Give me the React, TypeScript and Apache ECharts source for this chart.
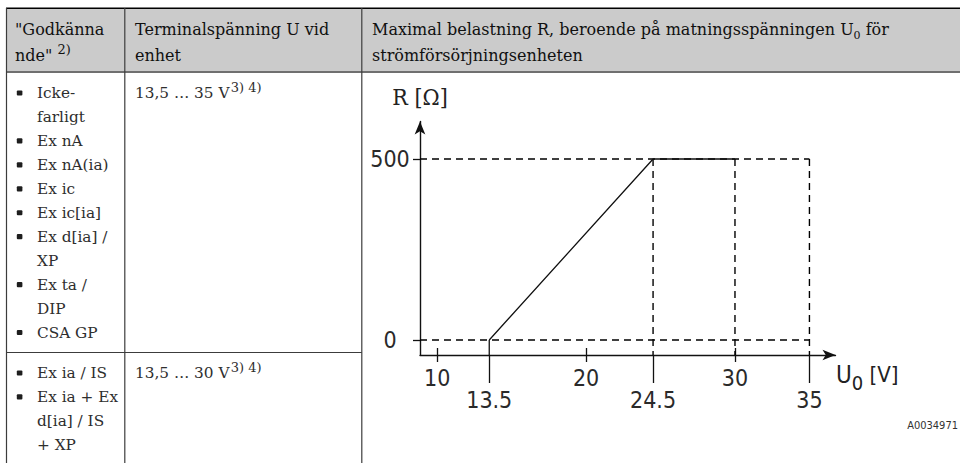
import React, { useEffect, useRef } from "react";
import * as echarts from "echarts";

// ---------- data ----------
const curveU = [13.5, 24.5, 30];
const curveR = [0, 500, 500];
const xTicksMajor = [10, 20, 30];
const xTicksMarked = [13.5, 24.5, 35];
const yTicks = [0, 500];
const rLimit = 500;
const uMax = 35;
const uGuides = [24.5, 30, 35];
const X_MIN = 8.85;
const X_MAX = 36.75;
const Y_MIN = -41.4;
const Y_MAX = 603.6;

const headerCol1 = ['"Godkänna', 'nde" '];
const headerCol1Note = "2)";
const headerCol2 = ["Terminalspänning U vid", "enhet"];
const headerCol3Parts = ["Maximal belastning R, beroende på matningsspänningen U", "0", " för"];
const headerCol3Line2 = "strömförsörjningsenheten";

const approvalsRow1 = ["Icke-", "farligt", "Ex nA", "Ex nA(ia)", "Ex ic", "Ex ic[ia]", "Ex d[ia] /", "XP", "Ex ta /", "DIP", "CSA GP"];
const bulletsRow1 = [true, false, true, true, true, true, true, false, true, false, true];
const approvalsRow2 = ["Ex ia / IS", "Ex ia + Ex", "d[ia] / IS", "+ XP"];
const bulletsRow2 = [true, true, false, false];
const terminalRow1 = "13,5 … 35 V";
const terminalRow2 = "13,5 … 30 V";
const terminalNotes = "3) 4)";
const yAxisName = "R [Ω]";
const xAxisNameParts = ["U", "0", " [V]"];
const figureId = "A0034971";

// ---------- styles ----------
const SERIF = "'DejaVu Serif', serif";
const SERIF_C = "'DejaVu Serif Condensed', 'DejaVu Serif', serif";
const SANS_C = "'DejaVu Sans Condensed', 'DejaVu Sans', sans-serif";
const HEAD_FILL = "#101010";
const BODY_FILL = "#2e2e2e";
const LINE_DARK = "#111";

function buildGraphic() {
  const els: any[] = [];
  const line = (x1: number, y1: number, x2: number, y2: number, stroke: string, lineWidth: number) => ({
    type: "line",
    silent: true,
    shape: { x1, y1, x2, y2 },
    style: { stroke, lineWidth },
  });
  // header background
  els.push({ type: "rect", silent: true, shape: { x: 6.5, y: 8.5, width: 953.5, height: 63 }, style: { fill: "#cbcbcb" } });
  els.push(line(6, 8.3, 960, 8.3, "#000", 1.5));
  els.push(line(6, 72, 960, 72, "#6f6f6f", 2));
  els.push(line(6.5, 8, 6.5, 463, "#3c3c3c", 1.2));
  els.push(line(124.8, 8, 124.8, 463, "#3c3c3c", 1.2));
  els.push(line(361.8, 8, 361.8, 463, "#3c3c3c", 1.2));
  els.push(line(6.5, 352.5, 361.8, 352.5, "#3c3c3c", 1.2));

  const m = (fill: string, size = 16) => ({ fontFamily: SERIF, fontSize: size, lineHeight: 24, fill });
  const rich = (x: number, y: number, text: string, richStyles: any) => ({
    type: "text",
    silent: true,
    x,
    y,
    style: { text, rich: richStyles, verticalAlign: "middle", align: "left", fill: HEAD_FILL, fontFamily: SERIF, fontSize: 16 },
  });
  const plain = (x: number, y: number, text: string, fill: string, size = 16) => ({
    type: "text",
    silent: true,
    x,
    y,
    style: { text, fill, fontFamily: SERIF, fontSize: size, verticalAlign: "middle", align: "left" },
  });

  const H1 = 29;
  const H2 = 55;
  els.push(plain(15, H1, headerCol1[0], HEAD_FILL));
  els.push(
    rich(15, H2, `{m|${headerCol1[1]}}{sup|${headerCol1Note}}`, {
      m: m(HEAD_FILL),
      sup: { fontFamily: SERIF, fontSize: 13, lineHeight: 20, verticalAlign: "top", fill: HEAD_FILL },
    })
  );
  els.push(plain(135, H1, headerCol2[0], HEAD_FILL));
  els.push(plain(135, H2, headerCol2[1], HEAD_FILL));
  els.push(
    rich(372, H1, `{m|${headerCol3Parts[0]}}{sub|${headerCol3Parts[1]}}{m|${headerCol3Parts[2]}}`, {
      m: m(HEAD_FILL),
      sub: { fontFamily: SERIF, fontSize: 11, lineHeight: 16, verticalAlign: "bottom", fill: HEAD_FILL },
    })
  );
  els.push(plain(372, H2, headerCol3Line2, HEAD_FILL));

  // body column 1
  const BODY_SIZE = 15.3;
  const addList = (items: string[], bullets: boolean[], y0: number) => {
    items.forEach((t, i) => {
      const y = y0 + i * 23.95;
      if (bullets[i]) {
        els.push({ type: "rect", silent: true, shape: { x: 16.8, y: y - 2.6, width: 5.6, height: 5.2, r: 1 }, style: { fill: "#1e1e1e" } });
      }
      els.push(plain(37, y, t, BODY_FILL, BODY_SIZE));
    });
  };
  addList(approvalsRow1, bulletsRow1, 93);
  addList(approvalsRow2, bulletsRow2, 373);

  // body column 2
  const supStyle = { fontFamily: SERIF, fontSize: 13, lineHeight: 14, verticalAlign: "top", fill: BODY_FILL };
  els.push(rich(135, 93, `{m|${terminalRow1}}{sup|\u200A${terminalNotes}}`, { m: m(BODY_FILL, BODY_SIZE), sup: supStyle }));
  els.push(rich(135, 373, `{m|${terminalRow2}}{sup|\u200A${terminalNotes}}`, { m: m(BODY_FILL, BODY_SIZE), sup: supStyle }));

  // x-axis name
  els.push({
    type: "text",
    silent: true,
    x: 836,
    y: 375,
    style: {
      text: `{u|${xAxisNameParts[0]}}{s|${xAxisNameParts[1]}}{v|${xAxisNameParts[2]}}`,
      verticalAlign: "middle",
      align: "left",
      fill: "#222",
      rich: {
        u: { fontFamily: SANS_C, fontSize: 24, lineHeight: 24, verticalAlign: "top", fill: "#222" },
        s: { fontFamily: SANS_C, fontSize: 20, lineHeight: 20, padding: [10, 0, 0, 0], verticalAlign: "top", fill: "#222" },
        v: { fontFamily: SANS_C, fontSize: 22, lineHeight: 24, verticalAlign: "top", fill: "#222" },
      },
    },
  });
  // figure id
  els.push({
    type: "text",
    silent: true,
    x: 958,
    y: 425,
    style: { text: figureId, fontFamily: SANS_C, fontSize: 11, fill: "#333", align: "right", verticalAlign: "middle" },
  });
  return els;
}

export default function App() {
  const ref = useRef<HTMLDivElement>(null);
  useEffect(() => {
    if (!ref.current) return;
    const chart = echarts.init(ref.current, undefined, { renderer: "svg" });
    const tickStyle = { color: LINE_DARK, width: 1.3 };
    const labelStyle = { fontFamily: SANS_C, fontSize: 23, color: "#2a2a2a" };
    const dashed = (data: number[][]) => ({
      type: "line",
      data,
      symbol: "none",
      silent: true,
      xAxisIndex: 0,
      yAxisIndex: 0,
      lineStyle: { color: "#000", width: 1.4, type: [7, 5] },
    });
    const option: any = {
      animation: false,
      textStyle: { fontFamily: SANS_C },
      grid: { left: 420, top: 121.5, right: 124.5, bottom: 108, containLabel: false },
      xAxis: [
        {
          type: "value",
          min: X_MIN,
          max: X_MAX,
          position: "bottom",
          splitLine: { show: false },
          axisLine: { show: true, onZero: false, symbol: ["none", "arrow"], symbolSize: [8, 13], lineStyle: { color: LINE_DARK, width: 1.4 } },
          axisTick: { show: true, customValues: xTicksMajor, length: 7, lineStyle: tickStyle },
          axisLabel: { show: true, customValues: xTicksMajor, margin: 11, ...labelStyle },
        },
        {
          type: "value",
          min: X_MIN,
          max: X_MAX,
          position: "bottom",
          splitLine: { show: false },
          axisLine: { show: false, onZero: false },
          axisTick: { show: true, inside: true, customValues: xTicksMajor, length: 7, lineStyle: tickStyle },
          axisLabel: { show: false },
        },
        {
          type: "value",
          min: X_MIN,
          max: X_MAX,
          position: "bottom",
          splitLine: { show: false },
          axisLine: { show: false, onZero: false },
          axisTick: { show: true, customValues: xTicksMarked, length: 28, lineStyle: tickStyle },
          axisLabel: { show: true, customValues: xTicksMarked, margin: 33, ...labelStyle },
        },
      ],
      yAxis: {
        type: "value",
        min: Y_MIN,
        max: Y_MAX,
        position: "left",
        splitLine: { show: false },
        axisLine: { show: true, onZero: false, symbol: ["none", "arrow"], symbolSize: [8, 13], lineStyle: { color: LINE_DARK, width: 1.4 } },
        axisTick: { show: true, customValues: yTicks, length: 7, lineStyle: tickStyle },
        axisLabel: { show: true, customValues: yTicks, margin: 30, align: "center", ...labelStyle },
        name: yAxisName,
        nameLocation: "end",
        nameGap: 13,
        nameTextStyle: { fontFamily: SERIF_C, fontSize: 23, color: "#222", align: "center", verticalAlign: "bottom" },
      },
      series: [
        dashed([[X_MIN, 0], [uMax, 0]]),
        dashed([[X_MIN, rLimit], [uMax, rLimit]]),
        ...uGuides.map((u) => dashed([[u, rLimit], [u, Y_MIN]])),
        {
          type: "line",
          data: [[curveU[0], curveR[0]], [curveU[0], Y_MIN]],
          symbol: "none",
          silent: true,
          lineStyle: { color: LINE_DARK, width: 1.3 },
        },
        {
          type: "line",
          data: curveU.map((u, i) => [u, curveR[i]]),
          symbol: "none",
          silent: true,
          lineStyle: { color: LINE_DARK, width: 1.3 },
        },
      ],
      graphic: buildGraphic(),
    };
    chart.setOption(option);
    return () => chart.dispose();
  }, []);
  return <div ref={ref} style={{ position: "fixed", left: 0, top: 0, width: 960, height: 463, background: "#fff" }} />;
}
